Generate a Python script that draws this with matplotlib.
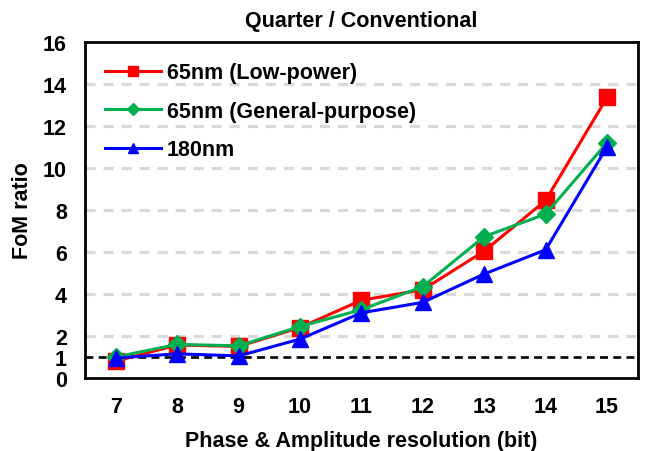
import matplotlib
matplotlib.use('Agg')
import matplotlib.pyplot as plt

plt.rcParams['font.family'] = ['Liberation Sans', 'DejaVu Sans']
plt.rcParams['font.weight'] = 'bold'

# data
bits = [7, 8, 9, 10, 11, 12, 13, 14, 15]
lp65 = [0.8, 1.57, 1.5, 2.4, 3.7, 4.2, 6.04, 8.45, 13.35]
gp65 = [1.0, 1.6, 1.53, 2.45, 3.25, 4.35, 6.73, 7.8, 11.2]
n180 = [0.95, 1.15, 1.05, 1.85, 3.1, 3.6, 4.95, 6.1, 11.0]
yticks = [0, 1, 2, 4, 6, 8, 10, 12, 14, 16]

fig = plt.figure(figsize=(6.45, 4.52), dpi=100)
ax = fig.add_axes([0.1318, 0.1615, 0.857, 0.744])

# grid lines
for y in range(2, 16, 2):
    ax.axhline(y, color='#d9d9d9', lw=2.2, ls=(0, (3.3, 2.6)), zorder=0)
ax.axhline(1, color='black', lw=1.9, ls=(0, (3, 2)), zorder=1)

ax.plot(bits, lp65, color='#ff0000', marker='s', ms=12, lw=2.2, label='65nm (Low-power)', zorder=3)
ax.plot(bits, gp65, color='#00b050', marker='D', ms=9.5, lw=2.2, label='65nm (General-purpose)', zorder=4)
ax.plot(bits, n180, color='#0000ff', marker='^', ms=11, lw=2.2, label='180nm', zorder=5)

ax.set_xlim(6.5, 15.5)
ax.set_ylim(0, 16)
ax.set_xticks(bits)
ax.set_yticks(yticks)
ax.tick_params(length=0, labelsize=15.5, pad=13)
for s in ax.spines.values():
    s.set_linewidth(2)

ax.set_title('Quarter / Conventional', fontsize=15.5, fontweight='bold', pad=11)
ax.set_xlabel('Phase & Amplitude resolution (bit)', fontsize=15.5, fontweight='bold', labelpad=9)
ax.set_ylabel('FoM ratio', fontsize=15.5, fontweight='bold', labelpad=7)

ax.legend(loc='upper left', frameon=False, fontsize=15.5, handlelength=2.6,
          labelspacing=0.82, borderaxespad=0.55, handletextpad=0.25, markerscale=0.64)

fig.savefig('out.png', dpi=100)
